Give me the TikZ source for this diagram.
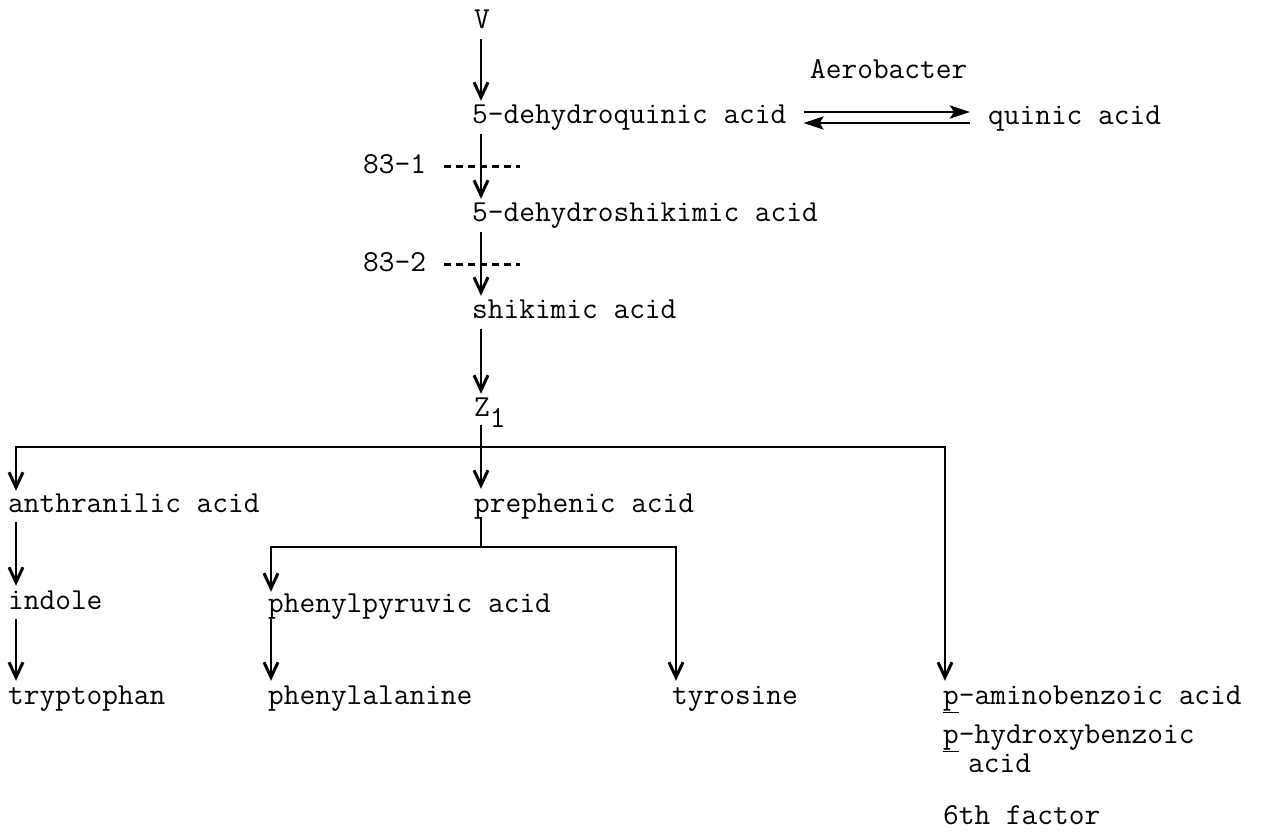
\documentclass[tikz,border=0pt]{standalone}
\usepackage{fontspec}
\usetikzlibrary{arrows.meta,calc}
\begin{document}
\begin{tikzpicture}[x=1pt,y=-1pt,
  lbl/.style={anchor=west,inner sep=0pt,text height=20pt,text depth=6pt,
    font=\ttfamily\fontsize{30.5}{36}\selectfont\addfontfeatures{FakeBold=0.8}},
  arr/.style={line width=2.6pt,-{Straight Barb[length=15pt,width=14pt,line width=3pt]},
    shorten <=4pt,shorten >=3pt},
  rev/.style={line width=2.6pt,-{Stealth[length=20pt,width=13pt,inset=4pt]}},
  ln/.style={line width=2.2pt,line cap=rect},
  dsh/.style={line width=3pt,dash pattern=on 7pt off 5pt}]
\useasboundingbox (0,0) rectangle (1267,834);
% nodes
\node[lbl] (V)   at (474,22)  {V};
\node[lbl] (dq)  at (472,117) {5-dehydroquinic acid};
\node[lbl] (aer) at (810,72)  {Aerobacter};
\node[lbl] (qa)  at (988,118) {quinic acid};
\node[lbl] (l1)  at (363,167) {83-1};
\node[lbl] (ds)  at (472,215) {5-dehydroshikimic acid};
\node[lbl] (l2)  at (363,265) {83-2};
\node[lbl] (sa)  at (472,312) {shikimic acid};
\node[lbl] (z1)  at (474,410) {Z\raisebox{-0.35em}{1}};
\node[lbl] (aa)  at (8,505)   {anthranilic acid};
\node[lbl] (pa)  at (474,505) {prephenic acid};
\node[lbl] (ind) at (8,602)   {indole};
\node[lbl] (ppa) at (268,605) {phenylpyruvic acid};
\node[lbl] (trp) at (8,697)   {tryptophan};
\node[lbl] (phe) at (268,697) {phenylalanine};
\node[lbl] (tyr) at (672,697) {tyrosine};
\node[lbl] (pab) at (943,697) {\underline{p}-aminobenzoic acid};
\node[lbl] (phb) at (943,736) {\underline{p}-hydroxybenzoic};
\node[lbl] (phb2) at (968,765) {acid};
\node[lbl] (six) at (943,817) {6th factor};
% helper coordinates
\coordinate (cx) at (481,0);
\coordinate (lx) at (16,0);
\coordinate (bL) at (16,447);
\coordinate (bR) at (945,447);
\coordinate (pL) at (271,547);
\coordinate (pR) at (676,547);
% main column
\draw[arr] (V.south -| cx) -- (dq.north -| cx);
\draw[arr] (dq.south -| cx) -- (ds.north -| cx);
\draw[arr] (ds.south -| cx) -- (sa.north -| cx);
\draw[arr] (sa.south -| cx) -- (z1.north -| cx);
\draw[arr,shorten <=2pt] (z1.south -| cx) -- (pa.north -| cx);
% blocks
\draw[dsh] ([xshift=18pt]l1.east) -- ++(76,0);
\draw[dsh] ([xshift=18pt]l2.east) -- ++(76,0);
% reversible reaction
\draw[rev,shorten <=17pt,shorten >=18pt] ([yshift=5pt]dq.east) -- ([yshift=5pt]dq.east -| qa.west);
\draw[rev,shorten <=18pt,shorten >=17pt] ([yshift=-6pt]dq.east -| qa.west) -- ([yshift=-6pt]dq.east);
% branch from Z1
\draw[ln] (bL) -- (bR);
\draw[arr,shorten <=0pt,shorten >=1pt] (bL) -- (bL |- aa.north);
\draw[arr,shorten <=0pt] (bR) -- (bR |- pab.north);
% left column
\draw[arr] (aa.south -| lx) -- (ind.north -| lx);
\draw[arr] (ind.south -| lx) -- (trp.north -| lx);
% prephenic branch
\draw[ln] (pa.south -| cx) -- (cx |- pL);
\draw[ln] (pL) -- (pR);
\draw[arr,shorten <=0pt,shorten >=0pt] (pL) -- (pL |- ppa.north);
\draw[arr,shorten <=0pt] (pR) -- (pR |- tyr.north);
\draw[arr,shorten <=1pt] (ppa.south -| pL) -- (phe.north -| pL);
\end{tikzpicture}
\end{document}
